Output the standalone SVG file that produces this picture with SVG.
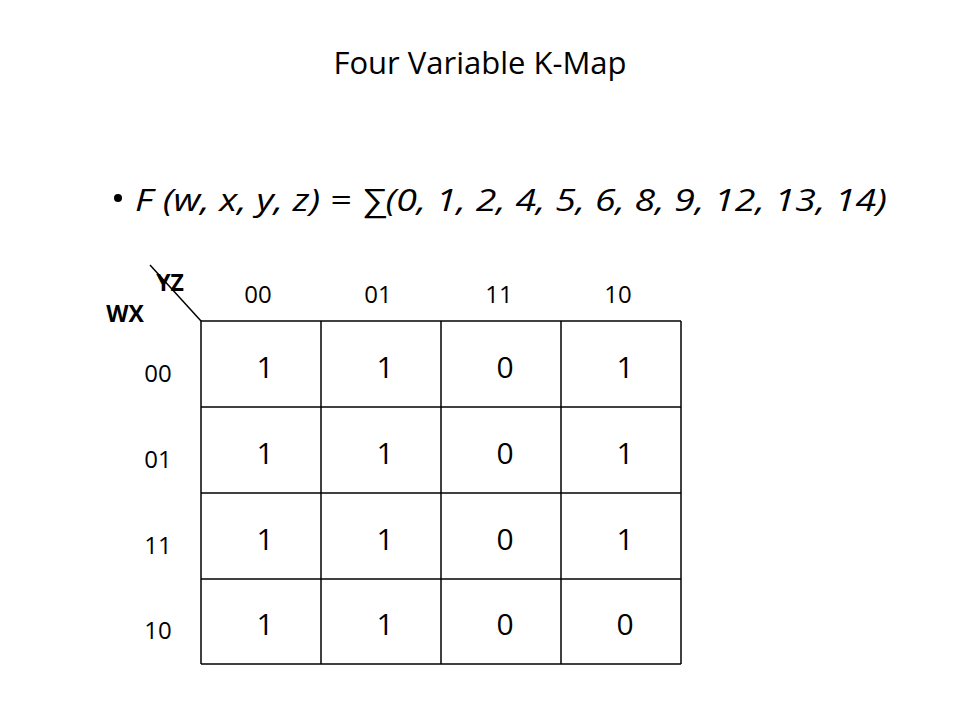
<svg xmlns="http://www.w3.org/2000/svg" width="960" height="720" viewBox="0 0 960 720">
<style>
text{font-family:"Open Sans","Liberation Sans",sans-serif;fill:#000}
.c{font-size:30px;text-anchor:middle}
.h{font-size:24px;text-anchor:middle}
line{stroke:#000;stroke-width:1.5}
</style>
<rect width="960" height="720" fill="#fff"/>
<text x="480" y="74" font-size="31" text-anchor="middle">Four Variable K-Map</text>
<circle cx="118" cy="198" r="4" fill="#000"/>
<text x="135" y="211" font-size="31" font-style="italic" textLength="752" lengthAdjust="spacingAndGlyphs">F (w, x, y, z) = ∑(0, 1, 2, 4, 5, 6, 8, 9, 12, 13, 14)</text>
<g id="header">
<line x1="150" y1="265" x2="201" y2="321"/>
<text x="170" y="291" font-size="23" font-weight="bold" text-anchor="middle">YZ</text>
<text x="125" y="322" font-size="23" font-weight="bold" text-anchor="middle">WX</text>
<text class="h" x="258" y="303">00</text><text class="h" x="378" y="303">01</text><text class="h" x="499" y="303">11</text><text class="h" x="618" y="303">10</text>
<text class="h" x="158" y="382">00</text><text class="h" x="158" y="468">01</text><text class="h" x="158" y="554">11</text><text class="h" x="158" y="639">10</text>
</g>
<g id="grid">
<line x1="201" y1="321" x2="681" y2="321"/><line x1="201" y1="407" x2="681" y2="407"/><line x1="201" y1="493" x2="681" y2="493"/><line x1="201" y1="579" x2="681" y2="579"/><line x1="201" y1="664" x2="681" y2="664"/>
<line x1="201" y1="321" x2="201" y2="664"/><line x1="321" y1="321" x2="321" y2="664"/><line x1="441" y1="321" x2="441" y2="664"/><line x1="561" y1="321" x2="561" y2="664"/><line x1="681" y1="321" x2="681" y2="664"/>
</g>
<g id="cells">
<text class="c" x="265" y="378">1</text><text class="c" x="385" y="378">1</text><text class="c" x="505" y="378">0</text><text class="c" x="625" y="378">1</text>
<text class="c" x="265" y="464">1</text><text class="c" x="385" y="464">1</text><text class="c" x="505" y="464">0</text><text class="c" x="625" y="464">1</text>
<text class="c" x="265" y="550">1</text><text class="c" x="385" y="550">1</text><text class="c" x="505" y="550">0</text><text class="c" x="625" y="550">1</text>
<text class="c" x="265" y="635">1</text><text class="c" x="385" y="635">1</text><text class="c" x="505" y="635">0</text><text class="c" x="625" y="635">0</text>
</g>
</svg>
